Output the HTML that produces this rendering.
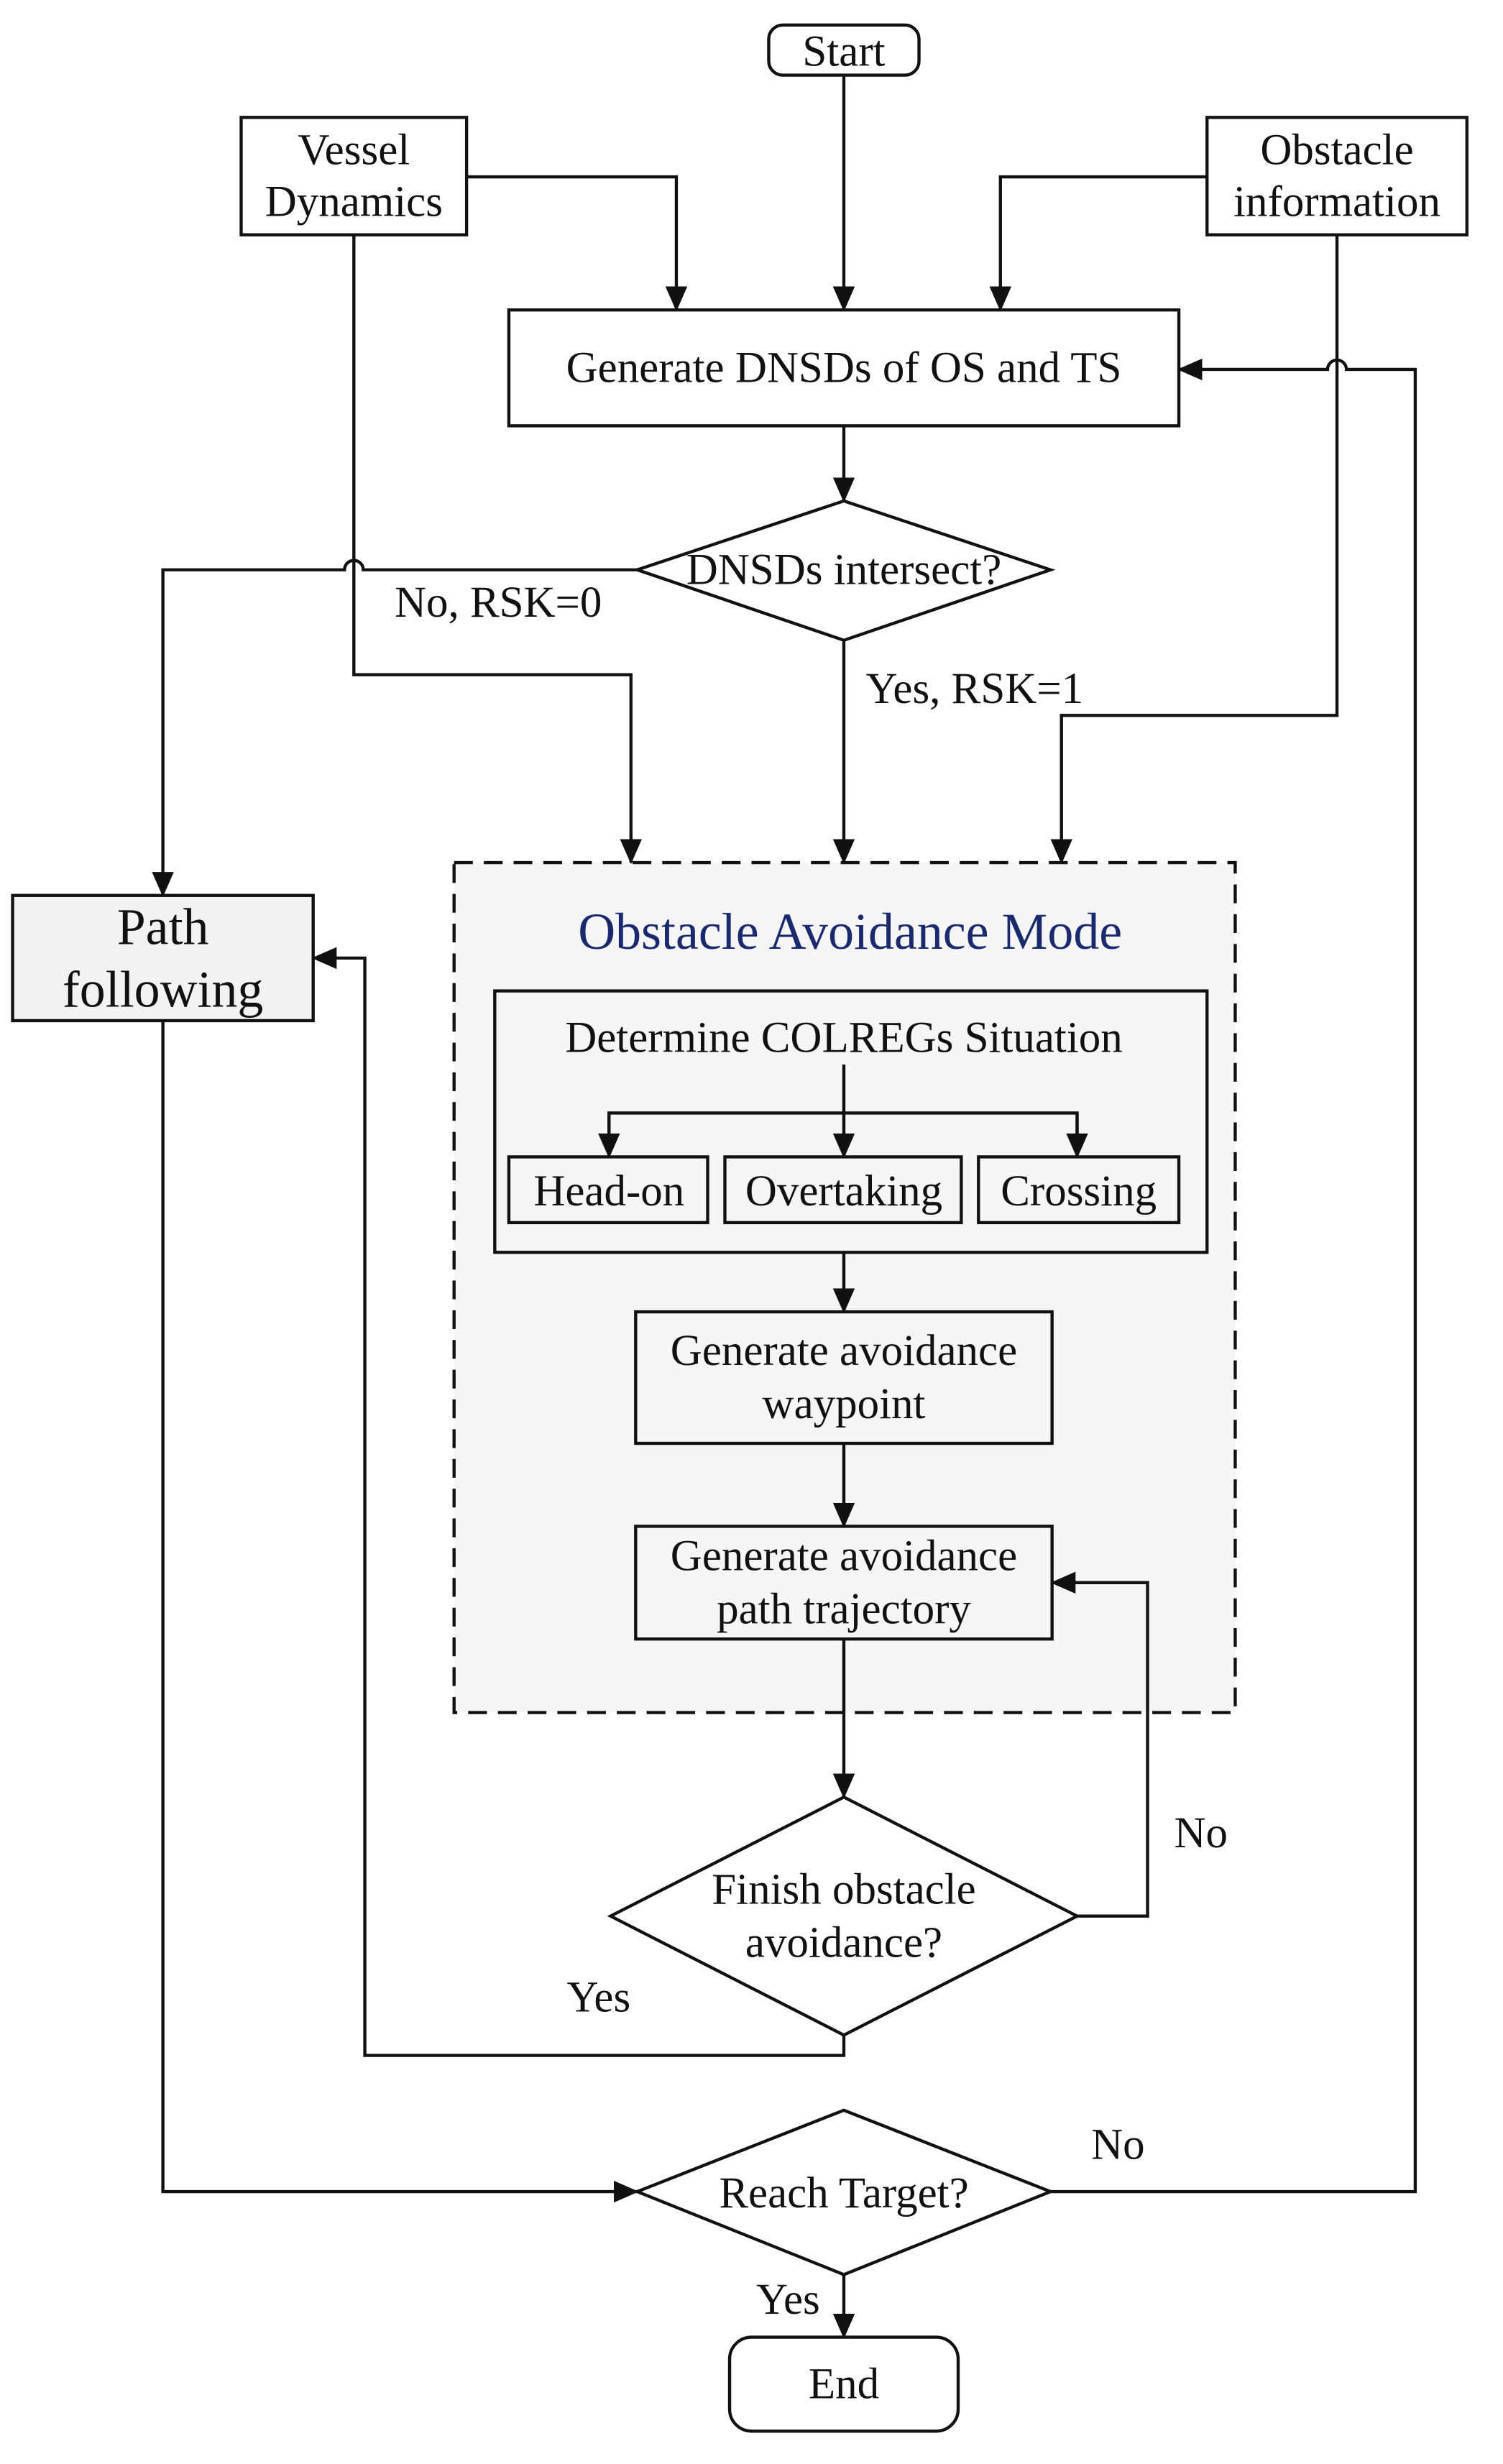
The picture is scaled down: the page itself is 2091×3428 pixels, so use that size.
<!DOCTYPE html>
<html><head><meta charset="utf-8"><style>
html,body{margin:0;padding:0;background:#fff;}
svg{display:block}
text{font-family:"Liberation Serif",serif;fill:#111;}
</style></head><body>
<svg width="2091" height="3428" viewBox="0 0 960 1574" xmlns="http://www.w3.org/2000/svg">
<defs>
<marker id="b" markerWidth="16" markerHeight="14" refX="15" refY="7" orient="auto" markerUnits="userSpaceOnUse">
<path d="M0,0 L16,7 L0,14 z" fill="#111"/>
</marker>
</defs>
<g stroke="#111" stroke-width="2" fill="none">
<rect x="290" y="551" width="499" height="543" fill="#f5f5f5" stroke-dasharray="12,7"/>
<rect x="491" y="16" width="96" height="32" rx="9" fill="#fff"/>
<rect x="154" y="75" width="144" height="75" fill="#fff"/>
<rect x="771" y="75" width="166" height="75" fill="#fff"/>
<rect x="325" y="198" width="428" height="74" fill="#fff"/>
<polygon points="407,364 539,320 671,364 539,409" fill="#fff"/>
<rect x="8" y="572" width="192" height="80" fill="#f2f2f2"/>
<rect x="316" y="633" width="455" height="167" fill="#f5f5f5"/>
<rect x="325" y="739" width="127" height="42" fill="#f5f5f5"/>
<rect x="463" y="739" width="151" height="42" fill="#f5f5f5"/>
<rect x="625" y="739" width="128" height="42" fill="#f5f5f5"/>
<rect x="406" y="838" width="266" height="84" fill="#f5f5f5"/>
<rect x="406" y="975" width="266" height="72" fill="#f5f5f5"/>
<polygon points="390,1224 539,1148 688,1224 539,1300" fill="#fff"/>
<polygon points="407,1400 539,1348 671,1400 539,1453" fill="#fff"/>
<rect x="466" y="1493" width="146" height="60" rx="14" fill="#fff"/>

<path d="M539,48 V198" marker-end="url(#b)"/>
<path d="M298,113 H432 V198" marker-end="url(#b)"/>
<path d="M771,113 H639 V198" marker-end="url(#b)"/>
<path d="M539,272 V320" marker-end="url(#b)"/>
<path d="M407,364 H232 A6,6 0 0 0 220,364 H104 V572" marker-end="url(#b)"/>
<path d="M226,150 V431 H403 V551" marker-end="url(#b)"/>
<path d="M539,409 V551" marker-end="url(#b)"/>
<path d="M854,150 V457 H678 V551" marker-end="url(#b)"/>
<path d="M671,1400 H904 V236 H860 A6,6 0 0 0 848,236 H753" marker-end="url(#b)"/>
<path d="M539,680 V739" marker-end="url(#b)"/>
<path d="M389,739 V711 H688 V739" />
<path d="M389,711 V739" marker-end="url(#b)"/>
<path d="M688,711 V739" marker-end="url(#b)"/>
<path d="M539,800 V838" marker-end="url(#b)"/>
<path d="M539,922 V975" marker-end="url(#b)"/>
<path d="M539,1047 V1148" marker-end="url(#b)"/>
<path d="M688,1224 H733 V1011 H672" marker-end="url(#b)"/>
<path d="M539,1300 V1313 H233 V612 H200" marker-end="url(#b)"/>
<path d="M104,652 V1400 H407" marker-end="url(#b)"/>
<path d="M539,1453 V1493" marker-end="url(#b)"/>
</g>
<g font-size="28" text-anchor="middle">
<text x="539" y="42">Start</text>
<text x="226" y="105">Vessel</text>
<text x="226" y="138">Dynamics</text>
<text x="854" y="105">Obstacle</text>
<text x="854" y="138">information</text>
<text x="539" y="244">Generate DNSDs of OS and TS</text>
<text x="539" y="373">DNSDs intersect?</text>
<text x="104" y="603" font-size="33">Path</text>
<text x="104" y="643" font-size="33">following</text>
<text x="543" y="606" font-size="33" style="fill:#1a2a6c">Obstacle Avoidance Mode</text>
<text x="539" y="672">Determine COLREGs Situation</text>
<text x="389" y="770">Head-on</text>
<text x="539" y="770">Overtaking</text>
<text x="689" y="770">Crossing</text>
<text x="539" y="872">Generate avoidance</text>
<text x="539" y="906">waypoint</text>
<text x="539" y="1003">Generate avoidance</text>
<text x="539" y="1037">path trajectory</text>
<text x="539" y="1216">Finish obstacle</text>
<text x="539" y="1250">avoidance?</text>
<text x="539" y="1410">Reach Target?</text>
<text x="539" y="1532">End</text>
</g>
<g font-size="28">
<text x="252" y="394">No, RSK=0</text>
<text x="553" y="449">Yes, RSK=1</text>
<text x="750" y="1180">No</text>
<text x="362" y="1285">Yes</text>
<text x="697" y="1379">No</text>
<text x="483" y="1478">Yes</text>
</g>
</svg>
</body></html>
